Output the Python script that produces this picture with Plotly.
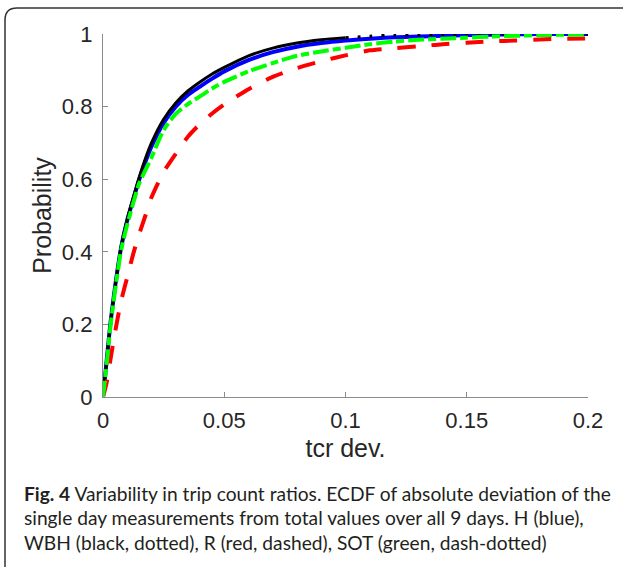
import plotly.graph_objects as go

# ---- data ----
tcr_dev = [0, 0.0015, 0.003, 0.005, 0.0075, 0.01, 0.0125, 0.015, 0.0175, 0.02,
           0.025, 0.03, 0.035, 0.04, 0.045, 0.05, 0.06, 0.07, 0.08, 0.09, 0.1,
           0.11, 0.12, 0.13, 0.14, 0.15, 0.16, 0.17, 0.18, 0.19, 0.2]

prob_H = [0, 0.10, 0.20, 0.305, 0.413, 0.487, 0.545, 0.60, 0.648, 0.69,
          0.755, 0.80, 0.832, 0.855, 0.877, 0.897, 0.928, 0.95, 0.965, 0.975, 0.982,
          0.987, 0.991, 0.993, 0.995, 0.997, 0.998, 0.999, 1.0, 1.0, 1.0]

prob_WBH = [0, 0.10, 0.20, 0.305, 0.415, 0.49, 0.55, 0.607, 0.657, 0.70,
            0.765, 0.81, 0.843, 0.868, 0.89, 0.908, 0.94, 0.961, 0.975, 0.984, 0.99,
            0.994, 0.997, 0.998, 0.999, 1.0, 1.0, 1.0, 1.0, 1.0, 1.0]

prob_R = [0, 0.04, 0.10, 0.18, 0.265, 0.33, 0.395, 0.45, 0.50, 0.55,
          0.62, 0.67, 0.717, 0.752, 0.781, 0.806, 0.848, 0.882, 0.906, 0.925, 0.941,
          0.955, 0.961, 0.966, 0.972, 0.976, 0.980, 0.982, 0.985, 0.987, 0.988]

prob_SOT = [0, 0.09, 0.19, 0.295, 0.405, 0.475, 0.535, 0.59, 0.625, 0.66,
            0.735, 0.78, 0.807, 0.828, 0.85, 0.868, 0.897, 0.92, 0.94, 0.952, 0.962,
            0.972, 0.979, 0.984, 0.987, 0.990, 0.993, 0.995, 0.997, 0.998, 0.999]

x_ticks = [0, 0.05, 0.1, 0.15, 0.2]
x_tick_labels = ["0", "0.05", "0.1", "0.15", "0.2"]
y_ticks = [0, 0.2, 0.4, 0.6, 0.8, 1]
y_tick_labels = ["0", "0.2", "0.4", "0.6", "0.8", "1"]

caption_lines = [
    "<b>Fig. 4</b> Variability in trip count ratios. ECDF of absolute deviation of the",
    "single day measurements from total values over all 9 days. H (blue),",
    "WBH (black, dotted), R (red, dashed), SOT (green, dash-dotted)",
]

# ---- layout geometry ----
W, H = 623, 567
L, R, T, B = 103, 35, 34, 170
PW, PH = W - L - R, H - T - B


def px(x):
    return (x - L) / PW


def py(y):
    return (H - B - y) / PH


fig = go.Figure()

# H (blue, solid)
fig.add_trace(go.Scatter(
    x=tcr_dev, y=prob_H, mode="lines", name="H",
    line=dict(shape="spline", smoothing=0.7, color="#0000ff", width=4),
    cliponaxis=False, showlegend=False))

# WBH (black, dotted) - the dense part of the ECDF renders almost solid
split = tcr_dev.index(0.1)
fig.add_trace(go.Scatter(
    x=tcr_dev[:split + 1], y=prob_WBH[:split + 1], mode="lines", name="WBH",
    line=dict(shape="spline", smoothing=0.7, color="#000000", width=3),
    cliponaxis=False, showlegend=False))
fig.add_trace(go.Scatter(
    x=tcr_dev[split:], y=prob_WBH[split:], mode="lines", name="WBH",
    line=dict(shape="spline", smoothing=0.7, color="#000000", width=3, dash="3px,9px"),
    cliponaxis=False, showlegend=False))

# R (red, dashed)
fig.add_trace(go.Scatter(
    x=tcr_dev, y=prob_R, mode="lines", name="R",
    line=dict(shape="spline", smoothing=0.7, color="#ff0000", width=4, dash="18px,16px"),
    cliponaxis=False, showlegend=False))

# SOT (green, dash-dotted)
fig.add_trace(go.Scatter(
    x=tcr_dev, y=prob_SOT, mode="lines", name="SOT",
    line=dict(shape="spline", smoothing=0.7, color="#00ff00", width=4, dash="16px,4px,8px,4px"),
    cliponaxis=False, showlegend=False))

axis_font = dict(family="Liberation Sans, Arial", size=22, color="#262626")
title_font = dict(family="Liberation Sans, Arial", size=25, color="#262626")
fig.update_xaxes(
    range=[0, 0.2], tickvals=x_ticks, ticktext=x_tick_labels,
    showline=True, linecolor="#8c8c8c", linewidth=1.3, mirror=False,
    ticks="inside", ticklen=5, tickcolor="#8c8c8c", tickwidth=1,
    showgrid=False, zeroline=False, tickfont=axis_font,
    ticklabelstandoff=3,
    title=dict(text="tcr dev.", font=title_font, standoff=7),
)
fig.update_yaxes(
    range=[0, 1], tickvals=y_ticks, ticktext=y_tick_labels,
    showline=True, linecolor="#8c8c8c", linewidth=1.3, mirror=False,
    ticks="inside", ticklen=5, tickcolor="#8c8c8c", tickwidth=1,
    showgrid=False, zeroline=False, tickfont=axis_font,
    ticklabelstandoff=5,
    title=dict(text="Probability", font=title_font, standoff=3),
)

# rounded border of the figure panel
r = 12
bx, by = 5, 8
path = (f"M {px(700)},{py(by)} L {px(bx + r)},{py(by)} "
        f"Q {px(bx)},{py(by)} {px(bx)},{py(by + r)} L {px(bx)},{py(640)}")
fig.add_shape(type="path", path=path, xref="paper", yref="paper",
              line=dict(color="#333333", width=1.5))

cap_y = [493, 517, 542]
for txt, yy in zip(caption_lines, cap_y):
    fig.add_annotation(text=txt, x=px(22), y=py(yy), xref="paper", yref="paper",
                       xanchor="left", yanchor="middle", showarrow=False,
                       font=dict(family="Lato, Open Sans", size=19.2, color="#231f20"))

fig.update_layout(
    width=W, height=H, margin=dict(l=L, r=R, t=T, b=B),
    paper_bgcolor="white", plot_bgcolor="white",
)

# remove the default page margin so the figure fills the window exactly
fig.write_html("out.html", config={"displayModeBar": False},
               post_script="document.body.style.margin='0';")
